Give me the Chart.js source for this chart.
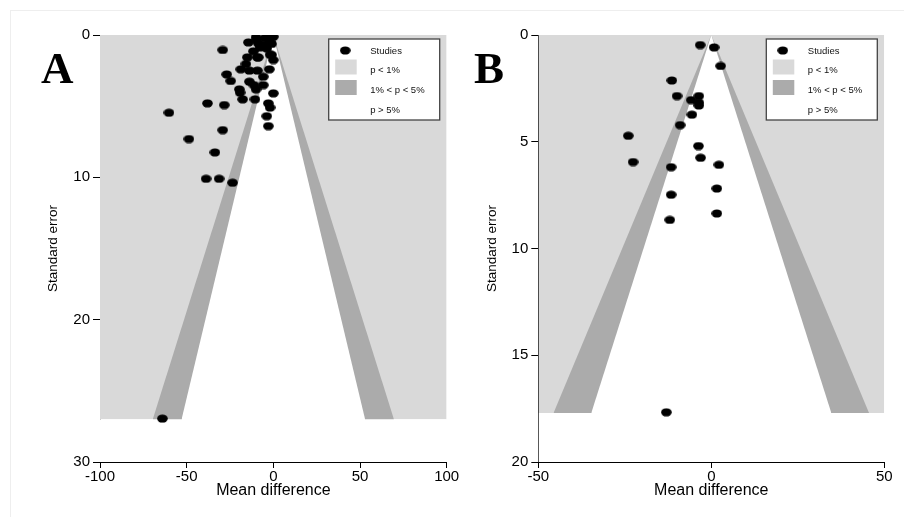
<!DOCTYPE html>
<html>
<head>
<meta charset="utf-8">
<script src="https://cdn.jsdelivr.net/npm/chart.js@4/dist/chart.umd.min.js"></script>
<style>
  body { margin: 0; background: #fff; }
  #wrap { position: relative; width: 904px; height: 517px; overflow: hidden; }
  #frame { position: absolute; left: 10px; top: 10px; width: 900px; height: 520px; border-left: 1px solid #eee; border-top: 1px solid #eee; }
  canvas { position: absolute; top: 0; }
</style>
</head>
<body>
<div id="wrap">
  <div id="frame"></div>
  <canvas id="grafico-a" width="460" height="517" style="left:0"></canvas>
  <canvas id="grafico-b" width="444" height="517" style="left:460px"></canvas>
</div>
<script>
// panel A: mean difference and standard error of each study
const mdA = [0, -10, -3.8, -1.9, -14.4, -8.7, -5.8, -1, -7.7, -3.8, -29.2, -1, -15, -9.2, 0, -15.8,
  -18.8, -13.8, -9.2, -2.3, -26.9, -5.8, -24.6, -13.8, -11.2, -5.8, -19.6, -19.2, -10, 0, -17.7,
  -10.6, -38, -28.3, -2.9, -1.9, -60.2, -3.8, -2.9, -29.2, -48.7, -33.7, -38.8, -31.3, -23.5, -64,
  -9.6, -4.8, -11.5, -1.9, -8.7, -0.9];
const seA = [0.12, 0.16, 0.23, 0.47, 0.52, 0.59, 0.7, 0.63, 0.87, 0.94, 1.05, 1.4, 1.57, 1.57, 1.76, 2.04,
  2.41, 2.5, 2.5, 2.41, 2.77, 2.93, 3.23, 3.28, 3.52, 3.52, 3.82, 4.05, 3.82, 4.1, 4.52,
  4.52, 4.8, 4.92, 4.8, 5.1, 5.46, 5.7, 6.4, 6.68, 7.31, 8.25, 10.1, 10.1, 10.38, 26.95,
  0.33, 0.21, 1.15, 1.38, 1.57, 0.1];

// panel B
const mdB = [-3.2, 0.8, 2.7, -11.4, -9.9, -3.6, -5.8, -3.6, -3.6, -5.6, -9, -24, -3.7, -3.1, -22.6,
  2.2, -11.6, 1.6, -11.6, 1.6, -12, -13];
const seB = [0.47, 0.58, 1.45, 2.13, 2.86, 2.86, 3.05, 3.17, 3.3, 3.73, 4.22, 4.72, 5.2, 5.75, 5.95,
  6.08, 6.19, 7.19, 7.48, 8.36, 8.66, 17.67];

const xTicksA = [-100, -50, 0, 50, 100];
const yTicksA = [0, 10, 20, 30];
const xTicksB = [-50, 0, 50];
const yTicksB = [0, 5, 10, 15, 20];
const seMaxA = 27;
const seMaxB = 17.7;
const z05 = 1.96;
const z01 = 2.576;

const cinzaClaro = '#d9d9d9';
const cinzaEscuro = '#ababab';
const fonte = "'Liberation Sans', Arial, sans-serif";

// elliptical marker like the original
function marcador() {
  const c = document.createElement('canvas');
  c.width = 11; c.height = 9;
  const g = c.getContext('2d');
  g.fillStyle = '#000';
  g.beginPath();
  g.ellipse(5.5, 4.5, 5.3, 4.1, 0, 0, Math.PI * 2);
  g.fill();
  return c;
}
const ponto = marcador();

function regiao(pts, cor, alvo, ordem) {
  return {
    data: pts, showLine: true, fill: { value: alvo }, backgroundColor: cor,
    borderWidth: 0, pointRadius: 0, order: ordem, tension: 0
  };
}

const legendaPlugin = {
  id: 'legendaFunil',
  afterDraw(chart, args, opts) {
    const ctx = chart.ctx;
    const a = chart.chartArea;
    const w = 111, h = 81;
    const x0 = a.right - 7 - w, y0 = a.top + 4;
    ctx.save();
    ctx.fillStyle = '#fff';
    ctx.fillRect(x0, y0, w, h);
    ctx.strokeStyle = '#444';
    ctx.lineWidth = 1.3;
    ctx.strokeRect(x0, y0, w, h);
    ctx.drawImage(ponto, x0 + 11, y0 + 7);
    ctx.fillStyle = cinzaClaro;
    ctx.fillRect(x0 + 6.5, y0 + 20.5, 21.5, 15);
    ctx.fillStyle = cinzaEscuro;
    ctx.fillRect(x0 + 6.5, y0 + 41, 21.5, 15);
    ctx.fillStyle = '#111';
    ctx.font = '9.5px ' + fonte;
    ctx.textBaseline = 'middle';
    const textos = ['Studies', 'p < 1%', '1% < p < 5%', 'p > 5%'];
    const ys = [12, 31, 51.5, 71];
    textos.forEach((t, i) => ctx.fillText(t, x0 + 41.5, y0 + ys[i]));
    // panel letter
    ctx.fillStyle = '#000';
    ctx.textBaseline = 'alphabetic';
    ctx.font = "bold 45px 'Liberation Serif', 'Times New Roman', serif";
    ctx.fillText(opts.letra, opts.lx, 83);
    ctx.restore();
  }
};

function criarGrafico(id, md, se, seMax, xTicks, yTicks, lay) {
  const xMin = xTicks[0], xMax = xTicks[xTicks.length - 1];
  const yMax = yTicks[yTicks.length - 1];
  const estudos = md.map((v, i) => ({ x: v, y: se[i] }));
  return new Chart(document.getElementById(id).getContext('2d'), {
    type: 'scatter',
    data: {
      datasets: [
        { data: estudos, pointStyle: ponto, pointRadius: 5, order: 0 },
        regiao([{ x: xMin, y: seMax }, { x: xMax, y: seMax }], '#fff', yMax, 1),
        regiao([{ x: -z05 * seMax, y: seMax }, { x: 0, y: 0 }, { x: z05 * seMax, y: seMax }], '#fff', yMax, 2),
        regiao([{ x: -z01 * seMax, y: seMax }, { x: 0, y: 0 }, { x: z01 * seMax, y: seMax }], cinzaEscuro, yMax, 3),
        regiao([{ x: xMin, y: seMax }, { x: xMax, y: seMax }], cinzaClaro, 0, 4)
      ]
    },
    options: {
      responsive: false,
      animation: false,
      devicePixelRatio: 1,
      layout: { padding: { left: lay.left, right: lay.right, top: 35, bottom: 0 } },
      plugins: {
        legend: { display: false },
        tooltip: { enabled: false },
        legendaFunil: { letra: lay.letra, lx: lay.lx }
      },
      scales: {
        x: {
          type: 'linear', min: xMin, max: xMax,
          afterBuildTicks: s => { s.ticks = xTicks.map(v => ({ value: v })); },
          afterFit: s => { s.height = 55; },
          grid: { display: true, drawOnChartArea: false, drawTicks: true, tickLength: 6, color: '#000' },
          border: { display: true, color: '#000', width: 1 },
          ticks: { color: '#000', font: { family: fonte, size: 15 }, padding: 0, maxRotation: 0 },
          title: { display: true, text: 'Mean difference', color: '#000', font: { family: fonte, size: 16 }, padding: { top: 0, bottom: 17 } }
        },
        y: {
          type: 'linear', min: 0, max: yMax, reverse: true,
          afterBuildTicks: s => { s.ticks = yTicks.map(v => ({ value: v })); },
          afterFit: s => { s.width = lay.yw; },
          grid: { display: true, drawOnChartArea: false, drawTicks: true, tickLength: 7, color: '#000' },
          border: { display: true, color: '#000', width: 1 },
          ticks: { color: '#000', font: { family: fonte, size: 15 }, padding: 3 },
          title: { display: true, text: 'Standard error', color: '#000', font: { family: "'Liberation Sans Narrow', 'Liberation Sans', sans-serif", size: 13.5 }, padding: { top: 5, bottom: 0 } }
        }
      }
    },
    plugins: [legendaPlugin]
  });
}

criarGrafico('grafico-a', mdA, seA, seMaxA, xTicksA, yTicksA, { left: 40, right: 13.3, yw: 60, letra: 'A', lx: 41 });
criarGrafico('grafico-b', mdB, seB, seMaxB, xTicksB, yTicksB, { left: 19.3, right: 19.7, yw: 59, letra: 'B', lx: 14 });
</script>
</body>
</html>
